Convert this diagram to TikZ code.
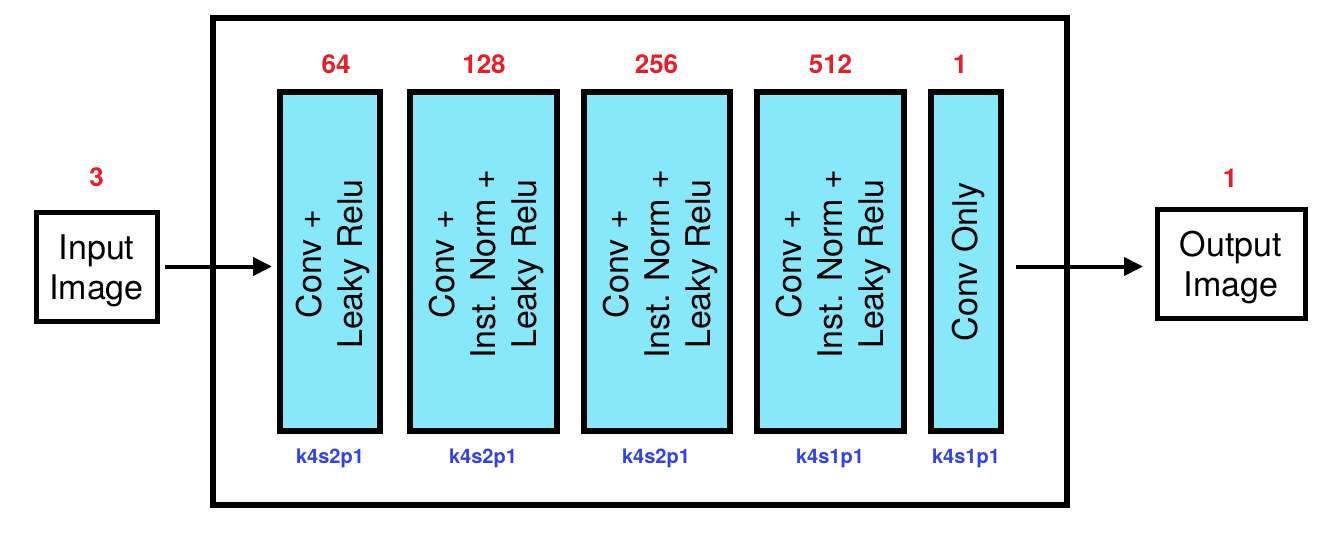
\documentclass[tikz,border=0pt]{standalone}
\usepackage{fontspec}
\setmainfont{TeX Gyre Heros}
\usetikzlibrary{arrows.meta}
\definecolor{blockfill}{RGB}{135,232,250}
\definecolor{numred}{RGB}{236,28,36}
\definecolor{kblue}{RGB}{48,66,240}
\begin{document}
\begin{tikzpicture}[x=1pt,y=-1pt]
\tikzset{
  frame/.style={draw, line width=6pt, inner sep=0pt, minimum width=854pt, minimum height=487pt},
  blockbox/.style={draw, line width=6pt, fill=blockfill, inner sep=0pt, minimum width=#1, minimum height=339pt},
  blocktext/.style={rotate=90, align=center, inner sep=0pt, font=\fontsize{34}{41}\selectfont},
  chanlabel/.style={text=numred, inner sep=0pt, font=\bfseries\fontsize{26}{30}\selectfont},
  kernlabel/.style={text=kblue, inner sep=0pt, font=\bfseries\fontsize{20}{24}\selectfont},
  iobox/.style={draw, line width=5pt, inner sep=0pt, minimum width=121pt, minimum height=109pt},
  iotext/.style={align=center, inner sep=0pt, font=\fontsize{34}{40}\selectfont},
  conn/.style={line width=4pt, -{Triangle[length=19pt,width=18pt]}}
}
\useasboundingbox (0,0) rectangle (1344,544);
\fill[white] (0,0) rectangle (1344,544);

\node[frame] (frame) at (640,261.5) {};

\node[blockbox=100pt] (b1) at (330,261.5) {};
\node[blockbox=147pt] (b2) at (483.5,261.5) {};
\node[blockbox=146.5pt] (b3) at (657,261.5) {};
\node[blockbox=147pt] (b4) at (830.5,261.5) {};
\node[blockbox=69.5pt] (b5) at (966,261.5) {};

\node[blocktext] (t1) at (333,264) {Conv +\\Leaky Relu};
\node[blocktext] (t2) at (486.5,264) {Conv +\\Inst. Norm +\\Leaky Relu};
\node[blocktext] (t3) at (660,264) {Conv +\\Inst. Norm +\\Leaky Relu};
\node[blocktext] (t4) at (833.5,264) {Conv +\\Inst. Norm +\\Leaky Relu};
\node[blocktext] (t5) at (968,262) {Conv Only};

\node[chanlabel] (c1) at (336,64) {64};
\node[chanlabel] (c2) at (484,64) {128};
\node[chanlabel] (c3) at (656.5,64) {256};
\node[chanlabel] (c4) at (830.5,64) {512};
\node[chanlabel] (c5) at (960,64) {1};
\node[chanlabel] (cin) at (96.5,177) {3};
\node[chanlabel] (cout) at (1230,178) {1};

\node[kernlabel] (k1) at (330,458) {k4s2p1};
\node[kernlabel] (k2) at (483,458) {k4s2p1};
\node[kernlabel] (k3) at (656,458) {k4s2p1};
\node[kernlabel] (k4) at (830,458) {k4s1p1};
\node[kernlabel] (k5) at (966,458) {k4s1p1};

\node[iobox] (in) at (96.5,266.5) {};
\node[iotext] (intext) at (96.5,271) {Input\\Image};
\node[iobox, minimum width=148pt] (out) at (1231,263.5) {};
\node[iotext] (outtext) at (1231,268) {Output\\Image};

\draw[conn, shorten <=5.5pt, shorten >=5pt] (in.east) -- (in.east -| b1.west);
\draw[conn, shorten <=12pt, shorten >=11.5pt] (b5.east |- in.east) -- (out.west |- in.east);
\end{tikzpicture}
\end{document}
